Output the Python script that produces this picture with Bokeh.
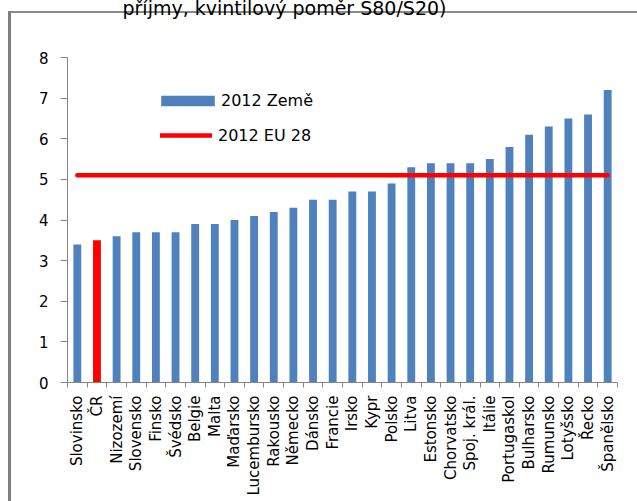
import math
from bokeh.plotting import figure
from bokeh.models import (ColumnDataSource, Range1d, FixedTicker, CustomJSTickFormatter,
                          Legend, LegendItem, Label)
from bokeh.embed import file_html
from bokeh.resources import INLINE

# ---- data ----
countries = ["Slovinsko", "ČR", "Nizozemí", "Slovensko", "Finsko", "Švédsko", "Belgie",
             "Malta", "Maďarsko", "Lucembursko", "Rakousko", "Německo", "Dánsko", "Francie",
             "Irsko", "Kypr", "Polsko", "Litva", "Estonsko", "Chorvatsko", "Spoj. král.",
             "Itálie", "Portugaskol", "Bulharsko", "Rumunsko", "Lotyšsko", "Řecko", "Španělsko"]
values = [3.4, 3.5, 3.6, 3.7, 3.7, 3.7, 3.9, 3.9, 4.0, 4.1, 4.2, 4.3, 4.5, 4.5,
          4.7, 4.7, 4.9, 5.3, 5.4, 5.4, 5.4, 5.5, 5.8, 6.1, 6.3, 6.5, 6.6, 7.2]
highlight = "ČR"
eu28_value = 5.1
y_tick_values = [0, 1, 2, 3, 4, 5, 6, 7, 8]
series_country = "2012 Země"
series_eu = "2012 EU 28"
title_text = "příjmy, kvintilový poměr S80/S20)"

BLUE = "#4f81bd"
RED = "#ff0000"
GRAY = "#868686"
FONT = "DejaVu Sans"

n = len(countries)
x_pos = [i + 0.5 for i in range(n)]
bounds = list(range(n + 1))
colors = [RED if c == highlight else BLUE for c in countries]
src = ColumnDataSource(dict(x=x_pos, top=values, color=colors, name=countries))
eu_src = ColumnDataSource(dict(x=x_pos, y=[eu28_value] * n))

p = figure(width=637, height=501, output_backend="svg", toolbar_location=None,
           x_range=Range1d(0, n), y_range=Range1d(0, 8),
           min_border_left=67, min_border_right=20, min_border_top=57, min_border_bottom=119)
p.outline_line_color = None
p.grid.visible = False
p.background_fill_color = "white"
p.border_fill_alpha = 0
# chart-area border (left and top edges of the Excel chart box)
p.styles = {
    "background-color": "white",
    "background-image": "linear-gradient(#7f7f7f, #7f7f7f), linear-gradient(#8a8a8a, #8a8a8a)",
    "background-position": "8px 11px, 8px 11px",
    "background-size": "3px 100%, 100% 2px",
    "background-repeat": "no-repeat, no-repeat",
}

bars = p.vbar(x="x", top="top", width=0.4, bottom=0, source=src,
              fill_color="color", line_color=None)
eu_line = p.line(x="x", y="y", source=eu_src, line_color=RED, line_width=4.5,
                 line_cap="round")

# y axis
ya = p.yaxis[0]
ya.ticker = FixedTicker(ticks=y_tick_values)
ya.axis_line_color = GRAY
ya.major_tick_line_color = GRAY
ya.major_tick_out = 7
ya.major_tick_in = 0
ya.minor_tick_line_color = None
ya.major_label_text_font = FONT
ya.major_label_text_font_size = "15px"
ya.major_label_text_color = "#000000"
ya.major_label_standoff = 12

# x axis
xa = p.xaxis[0]
xa.ticker = FixedTicker(ticks=x_pos, minor_ticks=bounds)
xa.formatter = CustomJSTickFormatter(args=dict(labels=countries),
                                     code="const i = Math.floor(tick); return (i >= 0 && i < labels.length) ? labels[i] : '';")
xa.axis_line_color = GRAY
xa.major_tick_line_color = None
xa.major_tick_out = 0
xa.major_tick_in = 0
xa.minor_tick_line_color = GRAY
xa.minor_tick_out = 5
xa.minor_tick_in = 0
xa.major_label_orientation = math.pi / 2
xa.major_label_text_font = FONT
xa.major_label_text_font_size = "15px"
xa.major_label_text_color = "#000000"
xa.major_label_standoff = 8

# legends
common = dict(border_line_color=None, background_fill_alpha=0, padding=0, margin=0,
              spacing=0, label_text_font=FONT, label_text_font_size="16px",
              label_text_color="#000000", label_height=20)
leg1 = Legend(items=[LegendItem(label=series_country, renderers=[bars], index=0)],
              location=(87, 272), glyph_width=67, glyph_height=13, label_standoff=0, **common)
leg2 = Legend(items=[LegendItem(label=series_eu, renderers=[eu_line])],
              location=(93, 237), glyph_width=52, glyph_height=20, label_standoff=6, **common)
p.add_layout(leg1)
p.add_layout(leg2)

# title, cut off at the top edge as in the reference (placed in the top border panel)
p.add_layout(Label(x=122, y=7.5, x_units="canvas", y_units="canvas", text=title_text,
                   text_font=FONT, text_font_size="19px", text_color="#000000",
                   text_baseline="alphabetic", text_align="left"), "above")

open("out.html", "w").write(file_html(p, INLINE))
